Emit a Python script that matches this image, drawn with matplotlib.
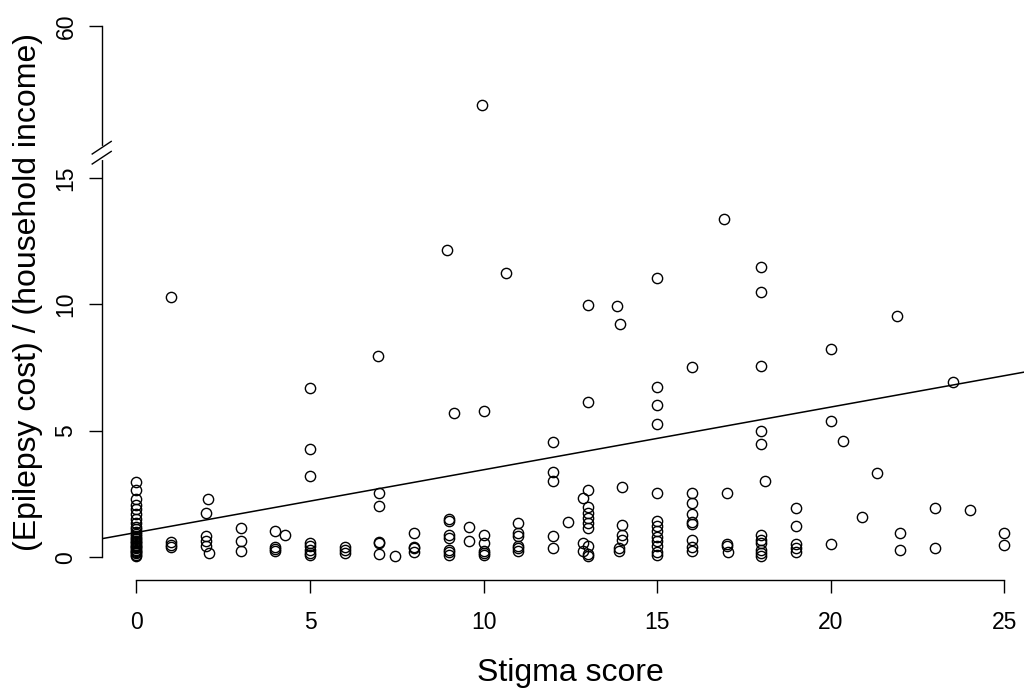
import matplotlib
matplotlib.use("Agg")
import matplotlib.pyplot as plt
import numpy as np
from matplotlib.lines import Line2D
from matplotlib.transforms import IdentityTransform

plt.rcParams['font.family'] = ['Liberation Sans', 'DejaVu Sans']

# stigma score vs (epilepsy cost)/(household income)
stigma = [
    0, 0, 0, 0, 0, 0, 0, 0, 0, 0, 0, 0, 0, 0, 0, 0, 0, 0, 0, 0, 0, 0, 0, 0, 0, 0, 0, 0,
    1, 1, 1, 1,
    2.05, 2, 2, 2, 2, 2.1,
    3, 3, 3,
    4, 4, 4, 4, 4.27,
    5, 5, 5, 5, 5, 5, 5, 5,
    6, 6, 6,
    6.95, 7, 7, 7, 7, 7, 7.46,
    8, 8, 8, 8,
    8.96, 9, 9, 9, 9, 9, 9, 9, 9.16, 9.57, 9.57,
    9.96, 10, 10, 10, 10, 10, 10, 10.65,
    11, 11, 11, 11, 11, 11,
    12, 12, 12, 12, 12, 12.43,
    13, 13, 13, 12.85, 13, 13, 13, 13, 13, 12.85, 13, 12.85, 13, 13,
    13.84, 13.94, 14, 14, 14, 14, 13.9, 13.9,
    15, 15, 15, 15, 15, 15, 15, 15, 15, 15, 15, 15, 15,
    16, 16, 16, 16, 16, 16, 16, 16, 16,
    16.93, 17, 17, 17, 17.05,
    18, 18, 18, 18, 18, 18.12, 18, 18, 18, 18, 18, 18,
    19, 19, 19, 19, 19,
    20, 20, 20, 20.34,
    21.32, 20.91,
    21.91, 22, 22,
    23, 23, 23.51,
    24,
    25, 25,
]
cost_ratio = [
    2.98, 2.65, 2.3, 2.07, 1.9, 1.7, 1.51, 1.34, 1.2, 1.1, 1.0, 0.92, 0.85, 0.78,
    0.72, 0.65, 0.6, 0.55, 0.5, 0.45, 0.4, 0.35, 0.3, 0.25, 0.2, 0.15, 0.1, 0.03,
    10.3, 0.6, 0.5, 0.42,
    2.3, 1.75, 0.85, 0.65, 0.45, 0.17,
    1.17, 0.65, 0.25,
    1.05, 0.4, 0.33, 0.25, 0.88,
    6.68, 4.27, 3.23, 0.58, 0.45, 0.3, 0.18, 0.1,
    0.42, 0.3, 0.15,
    7.96, 2.53, 2.03, 0.62, 0.55, 0.12, 0.05,
    0.95, 0.42, 0.35, 0.2,
    12.16, 1.5, 1.45, 0.88, 0.75, 0.29, 0.2, 0.1, 5.72, 1.21, 0.64,
    56.9, 5.8, 0.88, 0.55, 0.25, 0.15, 0.1, 11.25,
    1.37, 0.95, 0.85, 0.45, 0.35, 0.25,
    4.55, 3.38, 3.02, 0.84, 0.36, 1.41,
    9.97, 6.15, 2.66, 2.33, 2.0, 1.74, 1.54, 1.34, 1.15, 0.55, 0.45, 0.25, 0.12, 0.03,
    9.93, 9.21, 2.79, 1.28, 0.88, 0.7, 0.36, 0.23,
    11.03, 6.74, 6.02, 5.26, 2.53, 1.42, 1.22, 1.02, 0.82, 0.63, 0.43, 0.2, 0.1,
    7.52, 2.53, 2.16, 1.7, 1.38, 1.3, 0.68, 0.42, 0.23,
    13.38, 2.53, 0.51, 0.45, 0.2,
    11.49, 10.5, 7.56, 4.99, 4.48, 3.03, 0.88, 0.68, 0.55, 0.29, 0.16, 0.03,
    1.95, 1.25, 0.51, 0.38, 0.22,
    8.25, 5.4, 0.53, 4.6,
    3.32, 1.58,
    9.55, 0.97, 0.29,
    1.96, 0.38, 6.94,
    1.87,
    0.95, 0.49,
]

# fitted line as drawn
fit_intercept = 0.98
fit_slope = 0.248

x_ticks = [0, 5, 10, 15, 20, 25]
y_ticks = [0, 5, 10, 15, 60]

# broken y axis: values 15..55 squeezed into one unit
gap_lo, gap_hi = 15, 55
shift = gap_hi - gap_lo - 1


def squeeze(y):
    y = np.asarray(y, dtype=float)
    return np.where(y <= gap_lo, y,
                    np.where(y < gap_hi, gap_lo + (y - gap_lo) / (gap_hi - gap_lo), y - shift))


def unsqueeze(v):
    v = np.asarray(v, dtype=float)
    return np.where(v <= gap_lo, v,
                    np.where(v < gap_lo + 1, gap_lo + (v - gap_lo) * (gap_hi - gap_lo), v + shift))


W, H = 1024, 688
fig = plt.figure(figsize=(W / 100, H / 100), dpi=100)
ax = fig.add_axes([101.7 / W, (H - 580) / H, (1039 - 101.7) / W, (580 - 4.8) / H])
ax.set_yscale('function', functions=(squeeze, unsqueeze))

ax.plot(stigma, cost_ratio, linestyle='none', marker='o', ms=7.4,
        mfc='none', mec='black', mew=1.0)

xl = np.array([-1, 26])
ax.plot(xl, fit_intercept + fit_slope * xl, color='black', lw=1.1)

ax.set_xlim(-1, 26)
ax.set_ylim(-0.9, 21.85 + shift)

ax.set_xticks(x_ticks)
ax.set_yticks(y_ticks)
ax.set_yticklabels([str(t) for t in y_ticks])
for s in ['top', 'right']:
    ax.spines[s].set_visible(False)
ax.spines['bottom'].set_bounds(0, 25)
ax.spines['left'].set_bounds(0, 60)
for s in ['bottom', 'left']:
    ax.spines[s].set_linewidth(1.0)

ax.tick_params(axis='both', direction='out', length=9.4, width=1.0,
               labelsize=16.5, colors='black')
ax.tick_params(axis='x', pad=13)
ax.tick_params(axis='y', pad=8, labelrotation=90)
for lbl in ax.get_yticklabels():
    lbl.set_va('center')

ax.set_xlabel('Stigma score', fontsize=23, va='baseline')
ax.xaxis.set_label_coords(0.5, -101 / 575.2)
ax.set_ylabel('(Epilepsy cost) / (household income)', fontsize=23,
              va='center', ha='center')
ax.yaxis.set_label_coords((28 - 101.7) / 937.3, 0.5)

# axis break marks at y = gap_hi
bx = ax.transAxes.transform((0, 0))[0]
by = ax.transData.transform((0, gap_hi))[1]
fig.add_artist(Line2D([bx, bx], [by - 5, by + 5], color='white', lw=3,
                      transform=IdentityTransform(), zorder=5))
for c in (-5, 5):
    fig.add_artist(Line2D([bx - 9.5, bx + 9.5], [by + c - 6.3, by + c + 6.3],
                          color='black', lw=1.0, transform=IdentityTransform(), zorder=6))

fig.savefig('out.png', dpi=100)
